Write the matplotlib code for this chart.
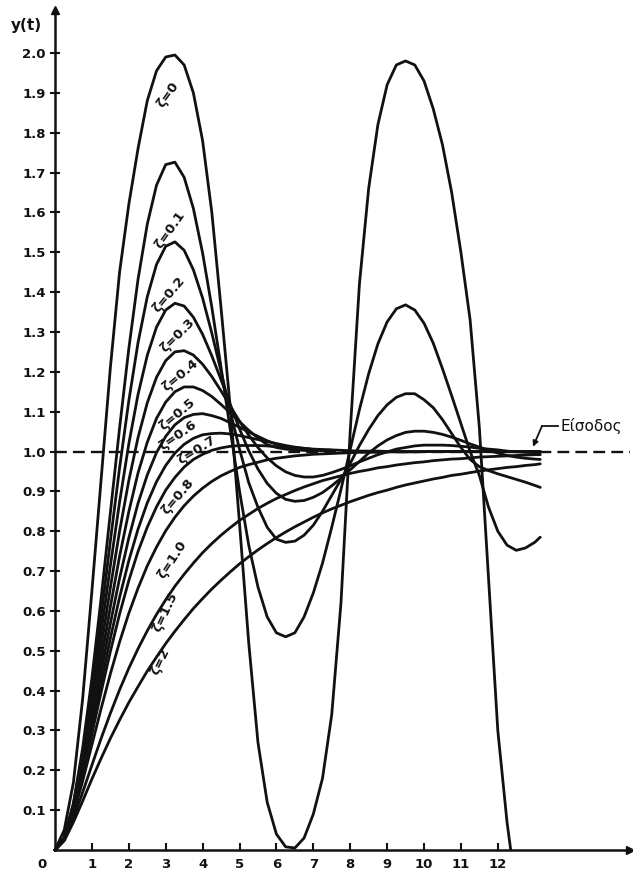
import matplotlib
matplotlib.use("Agg")
import matplotlib.pyplot as plt

# ---------------- data ----------------
t_grid = [0.0, 0.25, 0.5, 0.75, 1.0, 1.25, 1.5, 1.75, 2.0, 2.25, 2.5, 2.75,
          3.0, 3.25, 3.5, 3.75, 4.0, 4.25, 4.5, 4.75, 5.0, 5.25, 5.5, 5.75,
          6.0, 6.25, 6.5, 6.75, 7.0, 7.25, 7.5, 7.75, 8.0, 8.25, 8.5, 8.75,
          9.0, 9.25, 9.5, 9.75, 10.0, 10.25, 10.5, 10.75, 11.0, 11.25, 11.5,
          11.75, 12.0, 12.25, 12.5, 12.75, 13.0, 13.15]

y_z00 = [0.000, 0.050, 0.170, 0.380, 0.650, 0.930, 1.210, 1.450, 1.620, 1.760,
         1.880, 1.955, 1.990, 1.995, 1.970, 1.900, 1.780, 1.600, 1.360, 1.110,
         0.820, 0.520, 0.270, 0.120, 0.040, 0.008, 0.005, 0.030, 0.090, 0.180,
         0.340, 0.620, 1.050, 1.420, 1.660, 1.820, 1.920, 1.970, 1.980, 1.970,
         1.930, 1.860, 1.770, 1.650, 1.500, 1.330, 1.060, 0.680, 0.300, 0.070]
z00_end_t = 12.35
z00_end_y = 0.0

y_z01 = [0.000, 0.031, 0.118, 0.256, 0.431, 0.632, 0.846, 1.059, 1.258, 1.432,
         1.570, 1.668, 1.720, 1.726, 1.688, 1.610, 1.498, 1.362, 1.211, 1.054,
         0.901, 0.765, 0.660, 0.585, 0.545, 0.535, 0.545, 0.585, 0.645, 0.720,
         0.810, 0.905, 1.005, 1.105, 1.195, 1.270, 1.325, 1.358, 1.368, 1.355,
         1.322, 1.272, 1.208, 1.140, 1.070, 1.000, 0.940, 0.860, 0.800, 0.765,
         0.752, 0.758, 0.772, 0.785]

y_z02 = [0.000, 0.030, 0.115, 0.244, 0.405, 0.586, 0.775, 0.959, 1.127, 1.273,
         1.388, 1.469, 1.515, 1.526, 1.505, 1.456, 1.385, 1.297, 1.201, 1.101,
         1.006, 0.922, 0.860, 0.810, 0.780, 0.772, 0.775, 0.790, 0.815, 0.850,
         0.890, 0.930, 0.970, 1.015, 1.055, 1.090, 1.117, 1.136, 1.145, 1.145,
         1.130, 1.110, 1.080, 1.045, 1.010, 0.980, 0.962, 0.952, 0.944, 0.937,
         0.930, 0.923, 0.915, 0.910]

y_z03 = [0.000, 0.030, 0.111, 0.233, 0.381, 0.545, 0.713, 0.873, 1.019, 1.143,
         1.241, 1.312, 1.355, 1.372, 1.365, 1.337, 1.294, 1.240, 1.180, 1.118,
         1.057, 1.002, 0.956, 0.920, 0.895, 0.880, 0.875, 0.877, 0.885, 0.897,
         0.914, 0.933, 0.954, 0.975, 0.996, 1.014, 1.029, 1.040, 1.048, 1.051,
         1.051, 1.048, 1.043, 1.036, 1.028, 1.019, 1.011, 1.003, 0.996, 0.990,
         0.986, 0.983, 0.981, 0.980]

y_z04 = [0.000, 0.029, 0.108, 0.222, 0.360, 0.509, 0.658, 0.800, 0.927, 1.035,
         1.122, 1.186, 1.228, 1.250, 1.253, 1.242, 1.219, 1.188, 1.152, 1.114,
         1.076, 1.041, 1.010, 0.984, 0.964, 0.949, 0.940, 0.936, 0.936, 0.940,
         0.947, 0.955, 0.964, 0.974, 0.983, 0.992, 0.999, 1.006, 1.010, 1.014,
         1.016, 1.016, 1.016, 1.015, 1.013, 1.011, 1.008, 1.006, 1.004, 1.001,
         0.999, 0.998, 0.997, 0.997]

y_z05 = [0.000, 0.029, 0.104, 0.213, 0.340, 0.476, 0.610, 0.737, 0.849, 0.946,
         1.023, 1.083, 1.124, 1.150, 1.162, 1.162, 1.153, 1.138, 1.118, 1.097,
         1.075, 1.053, 1.034, 1.017, 1.010, 1.006, 1.004, 1.003, 1.003, 1.003,
         1.003]

y_z06 = [0.000, 0.028, 0.101, 0.204, 0.322, 0.447, 0.568, 0.682, 0.783, 0.870,
         0.941, 0.997, 1.038, 1.067, 1.085, 1.093, 1.095, 1.090, 1.083, 1.072,
         1.061, 1.049, 1.038, 1.027, 1.018, 1.010, 1.006, 1.004, 1.003, 1.003,
         1.003]

y_z07 = [0.000, 0.028, 0.098, 0.195, 0.306, 0.420, 0.531, 0.634, 0.726, 0.805,
         0.871, 0.924, 0.965, 0.996, 1.018, 1.033, 1.042, 1.045, 1.046, 1.044,
         1.040, 1.035, 1.030, 1.025, 1.020, 1.015, 1.011, 1.008, 1.005, 1.003,
         1.003]

y_z08 = [0.000, 0.027, 0.095, 0.188, 0.291, 0.396, 0.498, 0.592, 0.676, 0.749,
         0.810, 0.861, 0.903, 0.935, 0.961, 0.980, 0.993, 1.003, 1.009, 1.013,
         1.015, 1.015, 1.015, 1.014, 1.012, 1.011, 1.009, 1.008, 1.006, 1.005,
         1.004, 1.003, 1.002, 1.001, 1.001, 1.001, 1.000, 1.000, 1.000, 1.000,
         1.000, 1.000, 1.000, 1.000, 1.000, 1.000, 1.000, 1.000, 1.000, 1.000,
         1.000, 1.000, 1.000, 1.000]

y_z10 = [0.000, 0.026, 0.090, 0.173, 0.264, 0.355, 0.442, 0.522, 0.594, 0.657,
         0.713, 0.760, 0.801, 0.835, 0.864, 0.888, 0.908, 0.925, 0.939, 0.950,
         0.960, 0.967, 0.973, 0.979, 0.983, 0.986, 0.989, 0.991, 0.993, 0.994,
         0.995, 0.996, 0.997, 0.998, 0.998, 0.998, 0.999, 0.999, 0.999, 0.999,
         1.000, 1.000, 1.000, 1.000, 1.000, 1.000, 1.000, 1.000, 1.000, 1.000,
         1.000, 1.000, 1.000, 1.000]

y_z15 = [0.000, 0.025, 0.079, 0.145, 0.213, 0.280, 0.343, 0.402, 0.456, 0.505,
         0.550, 0.591, 0.628, 0.662, 0.692, 0.720, 0.746, 0.769, 0.790, 0.809,
         0.827, 0.842, 0.857, 0.870, 0.882, 0.892, 0.902, 0.911, 0.919, 0.927,
         0.933, 0.939, 0.945, 0.950, 0.954, 0.959, 0.962, 0.966, 0.969, 0.972,
         0.974, 0.977, 0.979, 0.981, 0.982, 0.984, 0.986, 0.987, 0.988, 0.989,
         0.990, 0.991, 0.992, 0.992]

y_z20 = [0.000, 0.023, 0.070, 0.123, 0.178, 0.230, 0.280, 0.326, 0.370, 0.410,
         0.449, 0.484, 0.518, 0.549, 0.578, 0.606, 0.631, 0.655, 0.677, 0.698,
         0.718, 0.736, 0.753, 0.769, 0.784, 0.798, 0.811, 0.823, 0.835, 0.846,
         0.856, 0.865, 0.874, 0.882, 0.890, 0.897, 0.903, 0.910, 0.916, 0.921,
         0.926, 0.931, 0.935, 0.940, 0.943, 0.947, 0.951, 0.954, 0.957, 0.960,
         0.962, 0.965, 0.967, 0.969]

curve_labels = ["ζ=0", "ζ=0.1", "ζ=0.2", "ζ=0.3", "ζ=0.4", "ζ=0.5", "ζ=0.6",
                "ζ=0.7", "ζ=0.8", "ζ=1.0", "ζ=1.5", "ζ=2"]
x_ticks = [1, 2, 3, 4, 5, 6, 7, 8, 9, 10, 11, 12]
y_ticks = [0.1, 0.2, 0.3, 0.4, 0.5, 0.6, 0.7, 0.8, 0.9, 1.0,
           1.1, 1.2, 1.3, 1.4, 1.5, 1.6, 1.7, 1.8, 1.9, 2.0]
y_tick_labels = ["0.1", "0.2", "0.3", "0.4", "0.5", "0.6", "0.7", "0.8", "0.9",
                 "1.0", "1.1", "1.2", "1.3", "1.4", "1.5", "1.6", "1.7", "1.8",
                 "1.9", "2.0"]
input_level = 1.0
input_label = "Είσοδος"
y_axis_label = "y(t)"

# ---------------- layout / style ----------------
W, H = 633, 876
X0, Y0 = 55, 850          # origin in pixels
PX_PER_T = 36.9
PX_PER_Y = 398.5
X_END, Y_TOP = 630, 10

fig = plt.figure(figsize=(W / 100, H / 100), dpi=100)
fig.patch.set_facecolor("white")
ax = fig.add_axes([X0 / W, (H - Y0) / H, (X_END - X0) / W, (Y0 - Y_TOP) / H])
xmax = (X_END - X0) / PX_PER_T
ymax = (Y0 - Y_TOP) / PX_PER_Y
ax.set_xlim(0, xmax)
ax.set_ylim(0, ymax)

LW = 2.0
ink = "#111111"

series = [y_z00, y_z01, y_z02, y_z03, y_z04, y_z05, y_z06, y_z07, y_z08,
          y_z10, y_z15, y_z20]
for ys in series:
    ts = t_grid[:len(ys)]
    if ys is y_z00:
        ts = ts + [z00_end_t]
        ys = ys + [z00_end_y]
    ax.plot(ts, ys, color=ink, lw=LW, solid_capstyle="round",
            solid_joinstyle="round", clip_on=False, zorder=3)

# input (dashed)
ax.plot([0, xmax], [input_level, input_level], color=ink, lw=1.7,
        linestyle=(0, (5, 2.6)), zorder=2, clip_on=False)

# curve labels
lab_pos = [(3.06, 1.895, 55), (3.12, 1.556, 55), (3.09, 1.393, 50),
           (3.33, 1.292, 45), (3.39, 1.192, 40), (3.31, 1.092, 40),
           (3.33, 1.041, 35), (3.85, 1.004, 32), (3.33, 0.886, 50),
           (3.17, 0.728, 57), (2.98, 0.597, 65), (2.85, 0.472, 65)]
for txt, (lx, ly, rot) in zip(curve_labels, lab_pos):
    ax.text(lx, ly, txt, rotation=rot, rotation_mode="anchor", ha="center",
            va="center", fontsize=9.5, fontweight="bold", color=ink,
            family="DejaVu Sans", zorder=4)

# axes styling
for s in ["top", "right"]:
    ax.spines[s].set_visible(False)
for s in ["left", "bottom"]:
    ax.spines[s].set_linewidth(1.8)
    ax.spines[s].set_color(ink)

ax.set_xticks(x_ticks)
ax.set_xticklabels([str(v) for v in x_ticks])
ax.set_yticks(y_ticks)
ax.set_yticklabels(y_tick_labels)
ax.tick_params(axis="x", direction="in", length=5, width=1.5, pad=6,
               labelsize=9.5, colors=ink)
ax.tick_params(axis="y", direction="inout", length=7, width=1.5, pad=3,
               labelsize=9.5, colors=ink)
for lbl in ax.get_xticklabels() + ax.get_yticklabels():
    lbl.set_fontweight("bold")

# arrowheads on axes
ax.plot([0], [ymax], marker="^", color=ink, ms=6, clip_on=False, zorder=5)
ax.plot([xmax], [0], marker=">", color=ink, ms=6, clip_on=False, zorder=5)

# origin label and y label
ax.annotate("0", xy=(0, 0), xytext=(-13, -14), textcoords="offset pixels",
            ha="center", va="center", fontsize=9.5, fontweight="bold", color=ink)
ax.annotate(y_axis_label, xy=(0, ymax), xytext=(-29, -15),
            textcoords="offset pixels", ha="center", va="center",
            fontsize=11, fontweight="bold", color=ink)

# input label with leader
tx = (560 - X0) / PX_PER_T
ty = (Y0 - 426) / PX_PER_Y
kx = (542 - X0) / PX_PER_T
ax.text(tx, ty, input_label, ha="left", va="center", fontsize=11, color=ink,
        clip_on=False)
ax.plot([tx - 0.05, kx], [ty, ty], color=ink, lw=1.3, clip_on=False)
ax.annotate("", xy=((533 - X0) / PX_PER_T, input_level + 0.012), xytext=(kx, ty),
            arrowprops=dict(arrowstyle="-|>", color=ink, lw=1.3,
                            mutation_scale=8, shrinkA=0, shrinkB=0))

fig.savefig("out.png", dpi=100, facecolor="white")
